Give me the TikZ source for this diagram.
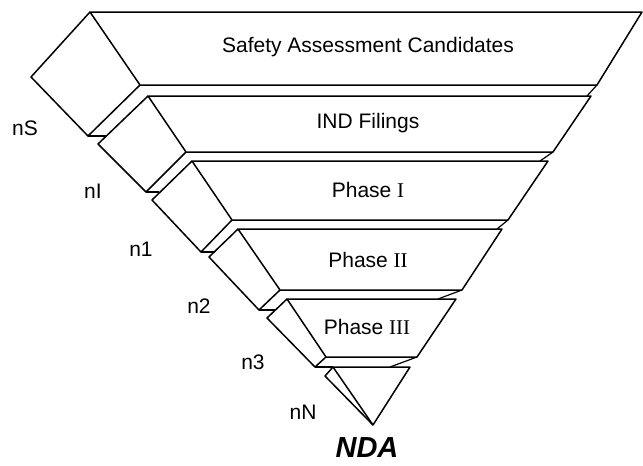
\documentclass[tikz,border=0pt]{standalone}
\usepackage{fontspec}
\setmainfont{Liberation Sans}
\newfontfamily\romanfont{Liberation Serif}

\begin{document}
\begin{tikzpicture}[x=1pt, y=-1pt, line width=1.5pt, line join=round,
    every node/.style={font=\fontsize{21}{24}\selectfont},
    face/.style={draw},
    rim/.style={draw, line width=1.2pt}]
    \useasboundingbox (0,0) rectangle (643,466);

    % corners of the stages: top left, bottom left, bottom right, top right, side left, side bottom
    \coordinate (tlS) at (90,12);   \coordinate (blS) at (140,85);  \coordinate (brS) at (597,85);  \coordinate (trS) at (642,12);
    \coordinate (lS) at (31,77);    \coordinate (bS) at (88,136);
    \coordinate (tlI) at (148,96);  \coordinate (blI) at (186,152); \coordinate (brI) at (553,152); \coordinate (trI) at (591,96);
    \coordinate (lI) at (98,144);   \coordinate (bI) at (146,192);
    \coordinate (tl1) at (192,161); \coordinate (bl1) at (232,220); \coordinate (br1) at (508,220); \coordinate (tr1) at (548,161);
    \coordinate (l1) at (152,200);  \coordinate (b1) at (201,252);
    \coordinate (tl2) at (238,229); \coordinate (bl2) at (280,290); \coordinate (br2) at (462,290); \coordinate (tr2) at (502,229);
    \coordinate (l2) at (209,257);  \coordinate (b2) at (259,310);
    \coordinate (tl3) at (287,299); \coordinate (bl3) at (326,357); \coordinate (br3) at (417,357); \coordinate (tr3) at (456,299);
    \coordinate (l3) at (267,318);  \coordinate (b3) at (315,367);
    \coordinate (tlN) at (333,367); \coordinate (apex) at (373,425); \coordinate (trN) at (410,367);
    \coordinate (lN) at (325,376);

    % front and side faces
    \draw[face] (tlS) -- (blS) -- (brS) -- (trS) -- cycle;
    \draw[face] (tlS) -- (lS) -- (bS) -- (blS);
    \draw[face] (tlI) -- (blI) -- (brI) -- (trI) -- cycle;
    \draw[face] (tlI) -- (lI) -- (bI) -- (blI);
    \draw[face] (tl1) -- (bl1) -- (br1) -- (tr1) -- cycle;
    \draw[face] (tl1) -- (l1) -- (b1) -- (bl1);
    \draw[face] (tl2) -- (bl2) -- (br2) -- (tr2) -- cycle;
    \draw[face] (tl2) -- (l2) -- (b2) -- (bl2);
    \draw[face] (tl3) -- (bl3) -- (br3) -- (tr3) -- cycle;
    \draw[face] (tl3) -- (l3) -- (b3) -- (bl3);
    \draw[face] (tlN) -- (apex) -- (trN) -- cycle;
    \draw[face] (tlN) -- (lN) -- (apex);

    % rims between the stages
    \draw[rim] (bS) -- (107,136);
    \draw[rim] (brS) -- (587,96);
    \draw[rim] (bI) -- (159,192);
    \draw[rim] (brI) -- (540,161);
    \draw[rim] (b1) -- (215,252);
    \draw[rim] (br1) -- (497,229);
    \draw[rim] (b2) -- (275,310);
    \draw[rim] (br2) -- (438,299);
    \draw[rim] (b3) -- (tlN);
    \draw[rim] (br3) -- (390,367);

    % stage names
    \node (safety) at (368,47) {Safety Assessment Candidates};
    \node (ind) at (368,123) {IND Filings};
    \node (ph1) at (368,190) {Phase {\romanfont I}};
    \node (ph2) at (368,260) {Phase {\romanfont II}};
    \node (ph3) at (367,327) {Phase {\romanfont III}};
    \node (nda) [inner sep=0pt] at (367,448) {\fontsize{29}{32}\selectfont\bfseries\itshape NDA};

    % counts
    \node (nS) at (25,128) {nS};
    \node (nI) at (93,191) {nI};
    \node (n1) at (141,249) {n1};
    \node (n2) at (199,306) {n2};
    \node (n3) at (253,362) {n3};
    \node (nN) at (303,412) {nN};
\end{tikzpicture}
\end{document}
